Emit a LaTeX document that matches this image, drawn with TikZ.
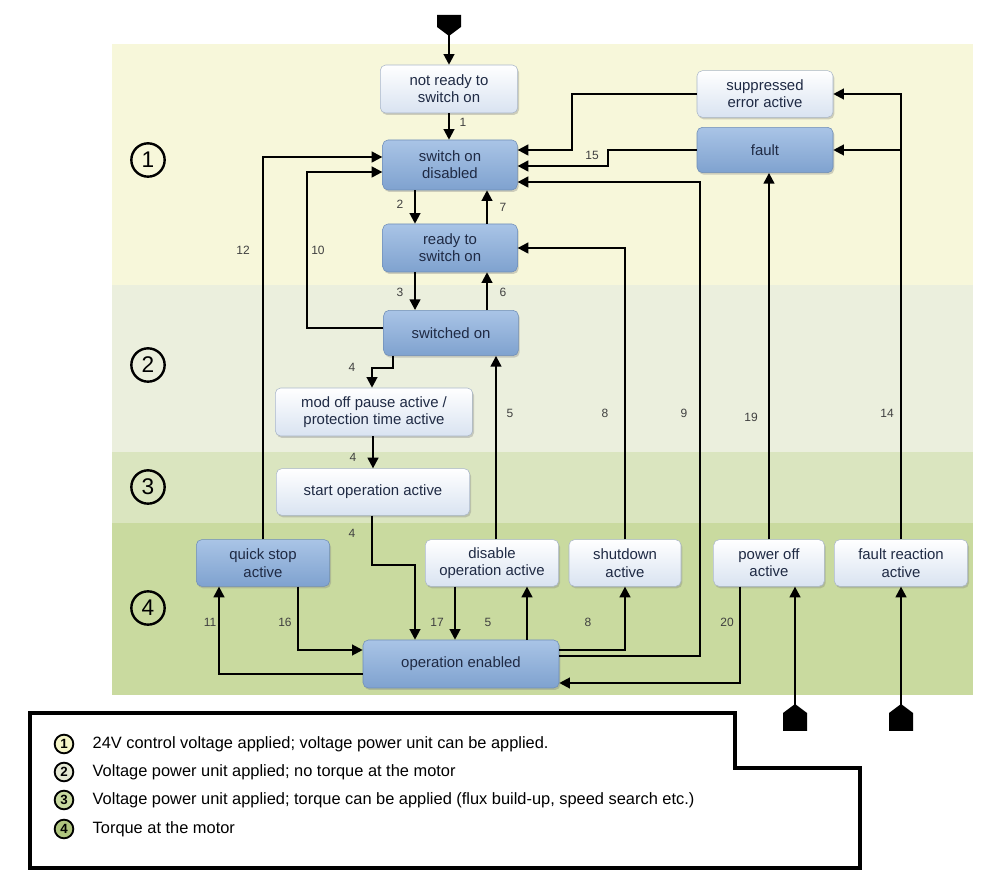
\documentclass[tikz,border=0pt]{standalone}
\usepackage{fontspec}
\setmainfont{Liberation Sans}
\usetikzlibrary{calc,arrows.meta,shadows}
\definecolor{bandA}{HTML}{F7F7DA}
\definecolor{bandB}{HTML}{EBEFDD}
\definecolor{bandC}{HTML}{DAE5BF}
\definecolor{bandD}{HTML}{C9DA9F}
\definecolor{legA}{HTML}{F5F5C8}
\definecolor{legB}{HTML}{E5E8D3}
\definecolor{legC}{HTML}{C8D9A0}
\definecolor{legD}{HTML}{AFC57E}
\definecolor{txt}{HTML}{1F2A44}
\definecolor{HTML_A}{HTML}{A9C4E6}
\definecolor{HTML_B}{HTML}{7FA2CF}
\definecolor{HTMLdraw}{HTML}{6E8DB6}
\definecolor{liteB}{HTML}{D9E3F1}
\definecolor{liteD}{HTML}{A9B6C8}
\tikzset{
  st/.style={rounded corners=4pt, align=center, font=\fontsize{11.2}{13}\selectfont, text=txt,
     minimum height=36pt, inner sep=1pt, drop shadow={shadow xshift=1pt,shadow yshift=-1.5pt,opacity=0.35}},
  blue/.style={st, top color=HTML_A, bottom color=HTML_B, draw=HTMLdraw},
  lite/.style={st, top color=white, bottom color=liteB, draw=liteD},
  a/.style={line width=1.6pt, -{Triangle[length=8pt,width=8pt]}},
  num/.style={font=\fontsize{9}{10}\selectfont, text=black!75},
  band/.style={circle, draw, line width=1.8pt, minimum size=25pt, inner sep=0pt, font=\fontsize{17}{18}\selectfont},
  leg/.style={circle, draw, line width=1.4pt, minimum size=14pt, inner sep=0pt, font=\fontsize{10}{11}\selectfont\bfseries},
  legt/.style={anchor=west, font=\fontsize{12.3}{14}\selectfont}
}
\begin{document}
\begin{tikzpicture}[x=0.75pt,y=-0.75pt]
\useasboundingbox (0,0) rectangle (1008,887);
% bands
\fill[bandA] (112,44) rectangle (973,285);
\fill[bandB] (112,285) rectangle (973,452);
\fill[bandC] (112,452) rectangle (973,523);
\fill[bandD] (112,523) rectangle (973,695);
\node[band] (b1) at (148,160) {1};
\node[band] (b2) at (148,365) {2};
\node[band] (b3) at (148,487) {3};
\node[band] (b4) at (148,608) {4};
% states
\node[lite, minimum width=103pt] (nr) at (449,89) {not ready to\\switch on};
\node[blue, minimum width=101pt, minimum height=37.5pt] (sod) at (450,165) {switch on\\disabled};
\node[blue, minimum width=101pt] (rts) at (450,248) {ready to\\switch on};
\node[blue, minimum width=101pt, minimum height=34pt] (swon) at (451,333) {switched on};
\node[lite, minimum width=148pt] (mod) at (374,412) {mod off pause active /\\protection time active};
\node[lite, minimum width=145pt, minimum height=35pt] (sop) at (373,492) {start operation active};
\node[blue, minimum width=100pt, minimum height=35pt] (qs) at (263,563) {quick stop\\active};
\node[lite, minimum width=100pt, minimum height=35pt] (dis) at (492,563) {disable\\operation active};
\node[lite, minimum width=84pt, minimum height=35pt] (sd) at (625,563) {shutdown\\active};
\node[lite, minimum width=83pt, minimum height=35pt] (po) at (769,563) {power off\\active};
\node[lite, minimum width=100pt, minimum height=35pt] (fr) at (901,563) {fault reaction\\active};
\node[blue, minimum width=147pt] (oe) at (461,664) {operation enabled};
\node[lite, minimum width=102pt, minimum height=35pt] (sup) at (765,94) {suppressed\\error active};
\node[blue, minimum width=102pt, minimum height=34pt] (flt) at (765,150) {fault};
% entry / exit markers
\fill (437,15) -- (461,15) -- (461,27) -- (449,36) -- (437,27) -- cycle;
\coordinate (e0) at (449,35);
\fill (783,731) -- (807,731) -- (807,713) -- (795,704) -- (783,713) -- cycle;
\coordinate (e1) at (795,705);
\fill (889,731) -- (913,731) -- (913,713) -- (901,704) -- (889,713) -- cycle;
\coordinate (e2) at (901,705);
% connectors
\draw[a] (e0) -- (nr.north);
\draw[a] (nr.south) -- (nr.south |- sod.north);
\draw[a] ($(sod.south)+(-35,0)$) -- ($(rts.north)+(-35,0)$);
\draw[a] ($(rts.north)+(37,0)$) -- ($(sod.south)+(37,0)$);
\draw[a] ($(rts.south)+(-35,0)$) -- ($(swon.north)+(-36,0)$);
\draw[a] ($(swon.north)+(36,0)$) -- ($(rts.south)+(37,0)$);
\draw[a] ($(swon.west)+(0,-5)$) -- (307,328) -- (307,172) -- ($(sod.west)+(0,7)$);
\draw[a] (qs.north) -- (263,157) -- ($(sod.west)+(0,-8)$);
\draw[a] (sup.west) -- (572,94) -- (572,150) -- ($(sod.east)+(0,-15)$);
\draw[a] (flt.west) -- (608,150) -- (608,166) -- ($(sod.east)+(0,1)$);
\draw[a] ($(oe.east)+(0,-8)$) -- (700,656) -- (700,182) -- ($(sod.east)+(0,17)$);
\draw[a] (sd.north) -- (625,248) -- (rts.east);
\draw[a] ($(dis.north)+(4,0)$) -- ($(swon.south)+(45,0)$);
\draw[a] ($(swon.south)+(-58,0)$) -- (393,368) -- (372,368) -- ($(mod.north)+(-2,0)$);
\draw[a] ($(mod.south)+(-1,0)$) -- (sop.north);
\draw[a] ($(sop.south)+(-1,0)$) -- (372,565) -- (415,565) -- ($(oe.north)+(-46,0)$);
\draw[a] ($(dis.south)+(-37,0)$) -- ($(oe.north)+(-6,0)$);
\draw[a] ($(oe.north)+(66,0)$) -- ($(dis.south)+(35,0)$);
\draw[a] ($(oe.east)+(0,-14)$) -- (625,650) -- (sd.south);
\draw[a] ($(qs.south)+(35,0)$) -- (298,650) -- ($(oe.west)+(0,-14)$);
\draw[a] ($(oe.west)+(0,10)$) -- (219,674) -- ($(qs.south)+(-44,0)$);
\draw[a] ($(po.south)+(-29,0)$) -- (740,683) -- ($(oe.east)+(0,19)$);
\draw[a] (po.north) -- ($(flt.south)+(4,0)$);
\draw[a] (fr.north) -- (901,94) -- (sup.east);
\coordinate (j14) at (901,150);
\draw[a] (j14) -- (flt.east);
\draw[a] (e1) -- ($(po.south)+(26,0)$);
\draw[a] (e2) -- (fr.south);
% transition numbers
\node[num] at (463,122) {1};
\node[num] at (400,204) {2};
\node[num] at (503,207) {7};
\node[num] at (400,292) {3};
\node[num] at (503,292) {6};
\node[num] at (318,250) {10};
\node[num] at (243,250) {12};
\node[num] at (592,155) {15};
\node[num] at (684,413) {9};
\node[num] at (605,413) {8};
\node[num] at (510,413) {5};
\node[num] at (751,417) {19};
\node[num] at (887,413) {14};
\node[num] at (352,367) {4};
\node[num] at (353,457) {4};
\node[num] at (352,533) {4};
\node[num] at (210,622) {11};
\node[num] at (285,622) {16};
\node[num] at (437,622) {17};
\node[num] at (488,622) {5};
\node[num] at (588,622) {8};
\node[num] at (727,622) {20};
% legend
\draw[line width=2.5pt] (30,713) -- (735,713) -- (735,768) -- (860,768) -- (860,868) -- (30,868) -- cycle;
\node[leg, fill=legA] (l1) at (64,744) {1};
\node[leg, fill=legB] (l2) at (64,772) {2};
\node[leg, fill=legC] (l3) at (64,800) {3};
\node[leg, fill=legD] (l4) at (64,829) {4};
\node[legt] at (88,744) {24V control voltage applied; voltage power unit can be applied.};
\node[legt] at (88,772) {Voltage power unit applied; no torque at the motor};
\node[legt] at (88,800) {Voltage power unit applied; torque can be applied (flux build-up, speed search etc.)};
\node[legt] at (88,829) {Torque at the motor};
\end{tikzpicture}
\end{document}
